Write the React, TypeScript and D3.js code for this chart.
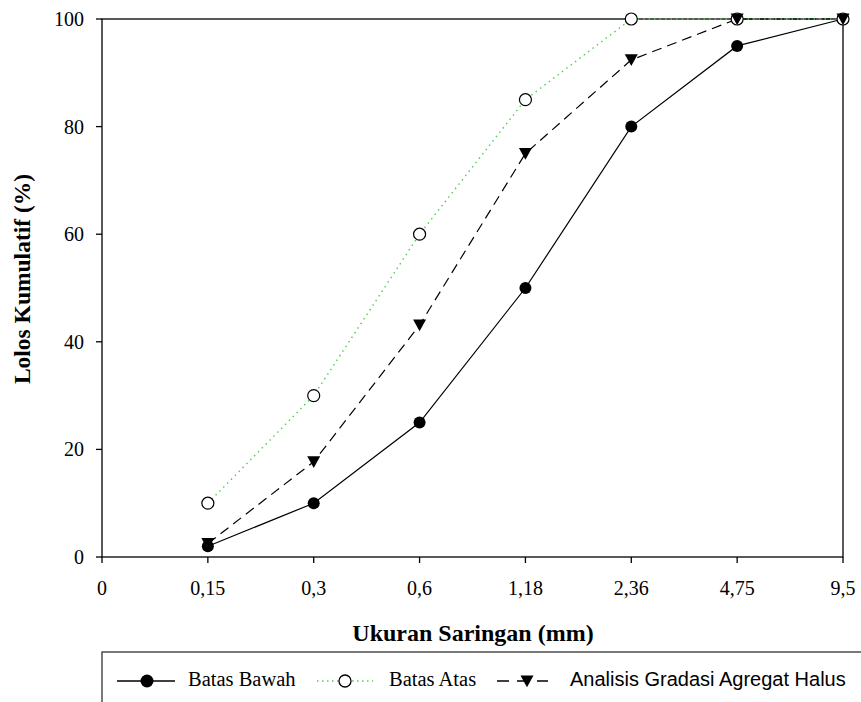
import React from "react";
import * as d3 from "d3";

const categories = ["0", "0,15", "0,3", "0,6", "1,18", "2,36", "4,75", "9,5"];
const dataCats = ["0,15", "0,3", "0,6", "1,18", "2,36", "4,75", "9,5"];
const batasBawah = [2, 10, 25, 50, 80, 95, 100];
const batasAtas = [10, 30, 60, 85, 100, 100, 100];
const analisis = [2.5, 17.7, 43.1, 75, 92.4, 100, 100];
const yTicks = [0, 20, 40, 60, 80, 100];

const W = 861;
const H = 702;
const left = 102;
const right = 843;
const top = 19;
const bottom = 557;
const serif = "'Liberation Serif', 'Times New Roman', serif";
const sans = "'Liberation Sans', Arial, sans-serif";
const green = "#4ccf4c";

export default function App() {
  const x = d3.scalePoint<string>().domain(categories).range([left, right]).padding(0);
  const y = d3.scaleLinear().domain([0, 100]).range([bottom, top]);
  const line = d3
    .line<[string, number]>()
    .x((d) => x(d[0]) as number)
    .y((d) => y(d[1]));
  const pts = (vals: number[]) => dataCats.map((c, i) => [c, vals[i]] as [string, number]);
  const tri = (cx: number, cy: number, s = 6.5) =>
    `M${cx - s},${cy - s * 0.85}L${cx + s},${cy - s * 0.85}L${cx},${cy + s * 0.95}Z`;

  return (
    <svg
      width={W}
      height={H}
      style={{ position: "absolute", left: 0, top: 0, background: "#fff" }}
    >
      <rect x={0} y={0} width={W} height={H} fill="#fff" />
      {/* frame */}
      <rect x={left} y={top} width={right - left} height={bottom - top} fill="none" stroke="#000" strokeWidth={1.3} />
      {/* y ticks */}
      {yTicks.map((t) => (
        <g key={t}>
          <line x1={left - 6} x2={left} y1={y(t)} y2={y(t)} stroke="#000" strokeWidth={1.3} />
          <text x={left - 18} y={y(t) + 7} textAnchor="end" fontFamily={serif} fontSize={20}>
            {t}
          </text>
        </g>
      ))}
      {/* x ticks */}
      {categories.map((c) => (
        <g key={c}>
          <line x1={x(c)} x2={x(c)} y1={bottom} y2={bottom + 6} stroke="#000" strokeWidth={1.3} />
          <text x={x(c)} y={bottom + 38} textAnchor="middle" fontFamily={serif} fontSize={20}>
            {c}
          </text>
        </g>
      ))}
      {/* axis titles */}
      <text x={473} y={641} textAnchor="middle" fontFamily={serif} fontWeight="bold" fontSize={24}>
        Ukuran Saringan (mm)
      </text>
      <text
        transform={`translate(30,${279}) rotate(-90)`}
        textAnchor="middle"
        fontFamily={serif}
        fontWeight="bold"
        fontSize={23.5}
      >
        Lolos Kumulatif (%)
      </text>
      {/* lines */}
      <path d={line(pts(batasBawah)) as string} fill="none" stroke="#000" strokeWidth={1.2} />
      <path d={line(pts(analisis)) as string} fill="none" stroke="#000" strokeWidth={1.2} strokeDasharray="10,6" />
      <path d={line(pts(batasAtas)) as string} fill="none" stroke={green} strokeWidth={1.4} strokeDasharray="1.5,4" />
      {/* markers */}
      {pts(batasBawah).map((d, i) => (
        <circle key={"b" + i} cx={x(d[0])} cy={y(d[1])} r={6} fill="#000" />
      ))}
      {pts(batasAtas).map((d, i) => (
        <circle key={"a" + i} cx={x(d[0])} cy={y(d[1])} r={6} fill="#fff" stroke="#000" strokeWidth={1.2} />
      ))}
      {pts(analisis).map((d, i) => (
        <path key={"t" + i} d={tri(x(d[0]) as number, y(d[1]))} fill="#000" />
      ))}
      {/* legend */}
      <rect x={102} y={652} width={W + 10} height={60} fill="#fff" stroke="#333" strokeWidth={1.3} />
      <line x1={117} x2={175} y1={681} y2={681} stroke="#000" strokeWidth={1.3} />
      <circle cx={147} cy={681} r={6.5} fill="#000" />
      <text x={188} y={686} fontFamily={serif} fontSize={20.5}>Batas Bawah</text>
      <line x1={317} x2={373} y1={681} y2={681} stroke={green} strokeWidth={1.4} strokeDasharray="1.5,3.5" />
      <circle cx={345} cy={681} r={6} fill="#fff" stroke="#000" strokeWidth={1.3} />
      <text x={389} y={686} fontFamily={serif} fontSize={20.5}>Batas Atas</text>
      <line x1={497} x2={548} y1={681} y2={681} stroke="#000" strokeWidth={1.3} strokeDasharray="12,8" />
      <path d={tri(527, 681)} fill="#000" />
      <text x={570} y={686} fontFamily={sans} fontSize={20}>Analisis Gradasi Agregat Halus</text>
    </svg>
  );
}
